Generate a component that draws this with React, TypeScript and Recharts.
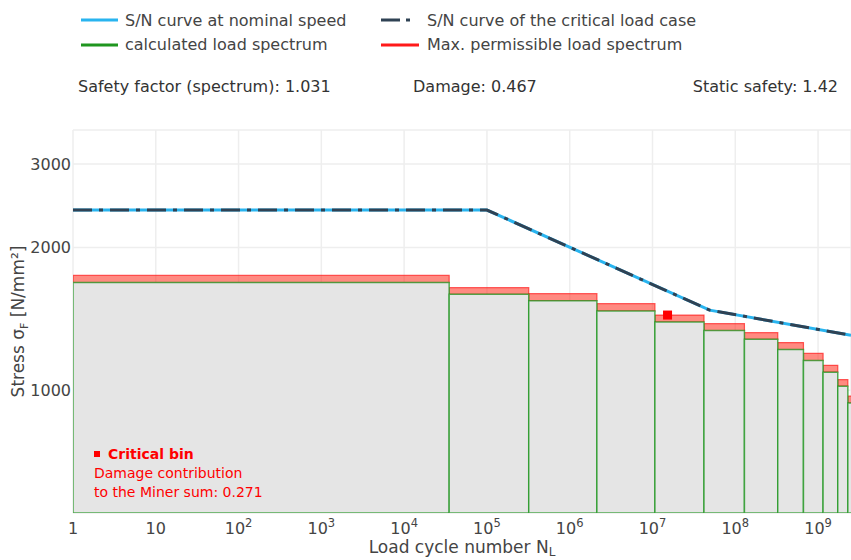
import React from "react";
import {
  ComposedChart,
  Line,
  Scatter,
  XAxis,
  YAxis,
  CartesianGrid,
  ReferenceArea,
} from "recharts";

// ---- data ----
const binEdges = [1, 3.5e4, 3.2e5, 2.13e6, 1.07e7, 4.19e7, 1.29e8, 3.26e8, 6.66e8, 1.15e9, 1.73e9, 2.29e9, 3.2e9];
const calculatedLoad = [1687, 1594, 1545, 1469, 1393, 1337, 1281, 1219, 1155, 1092, 1020, 940];
const permissibleLoad = [1747, 1646, 1599, 1523, 1441, 1382, 1323, 1261, 1196, 1129, 1053, 972];

const snCycles = [1, 1e5, 4.9e7, 2.5e9];
const snNominal = [2400, 2400, 1476, 1306];
const snCritical = [2400, 2400, 1476, 1306];

const criticalCycles = [1.52e7];
const criticalStress = [1441];

const xTicks = [1, 10, 1e2, 1e3, 1e4, 1e5, 1e6, 1e7, 1e8, 1e9];
const yTicks = [1000, 2000, 3000];
const xDomain = [1, 2.5e9];
const yDomain = [551, 3540];

const legendItems = [
  "S/N curve at nominal speed",
  "S/N curve of the critical load case",
  "calculated load spectrum",
  "Max. permissible load spectrum",
];
const stats = [
  "Safety factor (spectrum): 1.031",
  "Damage: 0.467",
  "Static safety: 1.42",
];
const annotationLines = ["Critical bin", "Damage contribution", "to the Miner sum: 0.271"];

// ---- derived tables ----
const nominalData = snCycles.map((c, i) => ({ cycles: c, stress: snNominal[i] }));
const criticalData = snCycles.map((c, i) => ({ cycles: c, stress: snCritical[i] }));
const markerData = criticalCycles.map((c, i) => ({ cycles: c, stress: criticalStress[i] }));

const FONT = "'DejaVu Sans', Verdana, sans-serif";
const TXT = "#444";
const BLUE = "#29b4ef";
const DARK = "#2f4254";
const GREEN = "#1f961f";
const RED = "#ff1a1a";

const XTick = (props: any) => {
  const { x, y, payload } = props;
  const v = payload.value as number;
  const exp = Math.round(Math.log10(v));
  return (
    <text x={x} y={y + 21} textAnchor="middle" fill={TXT} fontSize={16} fontFamily={FONT}>
      {exp === 0 ? "1" : exp === 1 ? "10" : (
        <>
          <tspan>10</tspan>
          <tspan dy={-7} fontSize={11.5}>{exp}</tspan>
        </>
      )}
    </text>
  );
};

const Square = (props: any) => {
  const { cx, cy } = props;
  return <rect x={cx - 4.5} y={cy - 4.5} width={9} height={9} fill="#ff0000" />;
};

export default function App() {
  return (
    <div style={{ position: "absolute", left: 0, top: 0, width: 851, height: 560, background: "#fff", overflow: "hidden" }}>
      <ComposedChart
        width={851}
        height={560}
        margin={{ top: 130, right: 0, bottom: 0, left: 8 }}
      >
        <CartesianGrid stroke="#eeeeee" strokeWidth={1.5} />
        <XAxis
          dataKey="cycles"
          type="number"
          scale="log"
          domain={xDomain}
          allowDataOverflow
          ticks={xTicks}
          interval={0}
          height={47}
          axisLine={false}
          tickLine={false}
          tickSize={0}
          tickMargin={0}
          tick={<XTick />}
          label={{
            content: () => (
              <text x={462} y={553} textAnchor="middle" fill={TXT} fontSize={17} fontFamily={FONT}>
                Load cycle number N
                <tspan dy={3} fontSize={12}>L</tspan>
              </text>
            ),
          }}
        />
        <YAxis
          dataKey="stress"
          type="number"
          scale="log"
          domain={yDomain}
          allowDataOverflow
          ticks={yTicks}
          interval={0}
          width={65}
          axisLine={false}
          tickLine={false}
          tickSize={0}
          tickMargin={2}
          tick={{ fill: TXT, fontSize: 16, fontFamily: FONT }}
          label={{
            content: () => (
              <text
                x={24}
                y={321.5}
                transform="rotate(-90 24 321.5)"
                textAnchor="middle"
                fill={TXT}
                fontSize={17}
                fontFamily={FONT}
              >
                Stress σ
                <tspan dy={4} fontSize={11}>F</tspan>
                <tspan dy={-4}> [N/mm²]</tspan>
              </text>
            ),
          }}
        />
        {permissibleLoad.map((v, i) => (
          <ReferenceArea
            key={"r" + i}
            x1={binEdges[i]}
            x2={binEdges[i + 1]}
            y1={calculatedLoad[i]}
            y2={v}
            fill="#ff2a1a"
            fillOpacity={0.55}
            stroke={RED}
            strokeWidth={1.2}
            strokeOpacity={0.7}
            ifOverflow="hidden"
          />
        ))}
        {calculatedLoad.map((v, i) => (
          <ReferenceArea
            key={"g" + i}
            x1={binEdges[i]}
            x2={binEdges[i + 1]}
            y1={yDomain[0]}
            y2={v}
            fill="#e5e5e5"
            fillOpacity={1}
            stroke={GREEN}
            strokeWidth={1.5}
            strokeOpacity={0.75}
            ifOverflow="hidden"
          />
        ))}
        <Line
          data={nominalData}
          dataKey="stress"
          type="linear"
          stroke={BLUE}
          strokeWidth={3}
          dot={false}
          isAnimationActive={false}
        />
        <Line
          data={criticalData}
          dataKey="stress"
          type="linear"
          stroke={DARK}
          strokeWidth={3}
          strokeDasharray="19 7 4 7"
          dot={false}
          isAnimationActive={false}
        />
        <Scatter data={markerData} dataKey="stress" shape={<Square />} isAnimationActive={false} />
      </ComposedChart>

      <svg
        width={851}
        height={560}
        style={{ position: "absolute", left: 0, top: 0, pointerEvents: "none" }}
      >
        {/* legend */}
        <line x1={81} x2={118} y1={20} y2={20} stroke={BLUE} strokeWidth={3} />
        <text x={125} y={25.5} fill={TXT} fontSize={16} fontFamily={FONT}>{legendItems[0]}</text>
        <line x1={381} x2={419} y1={20} y2={20} stroke={DARK} strokeWidth={3} strokeDasharray="19 6 4 100" />
        <text x={427} y={25.5} fill={TXT} fontSize={16} fontFamily={FONT}>{legendItems[1]}</text>
        <line x1={81} x2={118} y1={45} y2={45} stroke={GREEN} strokeWidth={3} />
        <text x={125} y={50} fill={TXT} fontSize={16} fontFamily={FONT}>{legendItems[2]}</text>
        <line x1={381} x2={419} y1={45} y2={45} stroke={RED} strokeWidth={3} />
        <text x={427} y={50} fill={TXT} fontSize={16} fontFamily={FONT}>{legendItems[3]}</text>

        {/* stats */}
        <text x={78} y={91.5} fill="#333" fontSize={16} fontFamily={FONT}>{stats[0]}</text>
        <text x={413} y={91.5} fill="#333" fontSize={16} fontFamily={FONT}>{stats[1]}</text>
        <text x={838} y={91.5} textAnchor="end" fill="#333" fontSize={16} fontFamily={FONT}>{stats[2]}</text>

        {/* annotation */}
        <rect x={94} y={451} width={6} height={6} fill="#ff0000" />
        <text x={108} y={459} fill="#ff0000" fontSize={14} fontWeight="bold" fontFamily={FONT}>{annotationLines[0]}</text>
        <text x={94} y={477.5} fill="#ff0000" fontSize={14} fontFamily={FONT}>{annotationLines[1]}</text>
        <text x={94} y={496.5} fill="#ff0000" fontSize={14} fontFamily={FONT}>{annotationLines[2]}</text>
      </svg>
    </div>
  );
}
